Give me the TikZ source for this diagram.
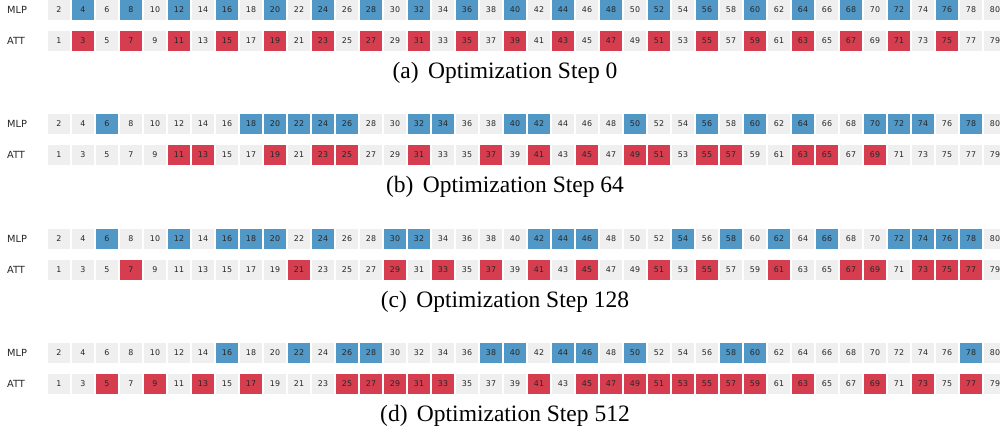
\documentclass[tikz,border=0pt]{standalone}
\usepackage{fontspec}
\setmainfont{Liberation Serif}
\newfontfamily\dejavu{DejaVu Sans}
\definecolor{cellgray}{HTML}{EFEFEF}
\definecolor{mlpblue}{HTML}{5298C7}
\definecolor{attred}{HTML}{D63E50}
\definecolor{numtext}{HTML}{262626}
\newcommand\markcells[2]{\foreach \k in {#2}{\expandafter\gdef\csname hl-#1-\k\endcsname{1}}}
% panel a
\markcells{a-m}{4,8,12,16,20,24,28,32,36,40,44,48,52,56,60,64,68,72,76}
\markcells{a-t}{3,7,11,15,19,23,27,31,35,39,43,47,51,55,59,63,67,71,75}
% panel b
\markcells{b-m}{6,18,20,22,24,26,32,34,40,42,50,56,60,64,70,72,74,78}
\markcells{b-t}{11,13,19,23,25,31,37,41,45,49,51,55,57,63,65,69}
% panel c
\markcells{c-m}{6,12,16,18,20,24,30,32,42,44,46,54,58,62,66,72,74,76,78}
\markcells{c-t}{7,21,29,33,37,41,45,51,55,61,67,69,73,75,77}
% panel d
\markcells{d-m}{16,22,26,28,38,40,44,46,50,58,60,78}
\markcells{d-t}{5,9,13,17,25,27,29,31,33,41,45,47,49,51,53,55,57,59,63,69,73,77}
\begin{document}
\begin{tikzpicture}[x=1pt,y=-1pt,
  cell/.style={rectangle,inner sep=0pt,minimum width=22pt,minimum height=20pt,
    fill=cellgray,text=numtext,font=\dejavu\fontsize{7.9}{9}\selectfont},
  off/.style={fill=cellgray},
  mlpon/.style={fill=mlpblue},
  atton/.style={fill=attred},
  rowlab/.style={anchor=west,inner sep=0pt,text=numtext,font=\dejavu\fontsize{9.8}{11}\selectfont},
  capt/.style={inner sep=0pt,font=\fontsize{23.5}{27}\selectfont}]
\useasboundingbox (0,0) rectangle (1000,431);
\foreach \p/\y/\s in {a/0/0,b/114/64,c/229/128,d/343/512}{
  \node[rowlab] (\p-mlab) at (7,\y+10) {MLP};
  \node[rowlab] (\p-tlab) at (7,\y+40.5) {ATT};
  \foreach \i in {0,...,39}{
    \pgfmathtruncatemacro\m{2*\i+2}
    \pgfmathtruncatemacro\t{2*\i+1}
    \ifcsname hl-\p-m-\m\endcsname\def\mst{mlpon}\else\def\mst{off}\fi
    \ifcsname hl-\p-t-\t\endcsname\def\tst{atton}\else\def\tst{off}\fi
    \node[cell,\mst] (\p-m\m) at (59+24*\i,\y+10) {\m};
    \node[cell,\tst] (\p-t\t) at (59+24*\i,\y+40.5) {\t};
  }
  \node[capt] (\p-cap) at (505,\y+73) {(\p)\hspace{0.4em}Optimization Step \s};
}
\end{tikzpicture}
\end{document}
